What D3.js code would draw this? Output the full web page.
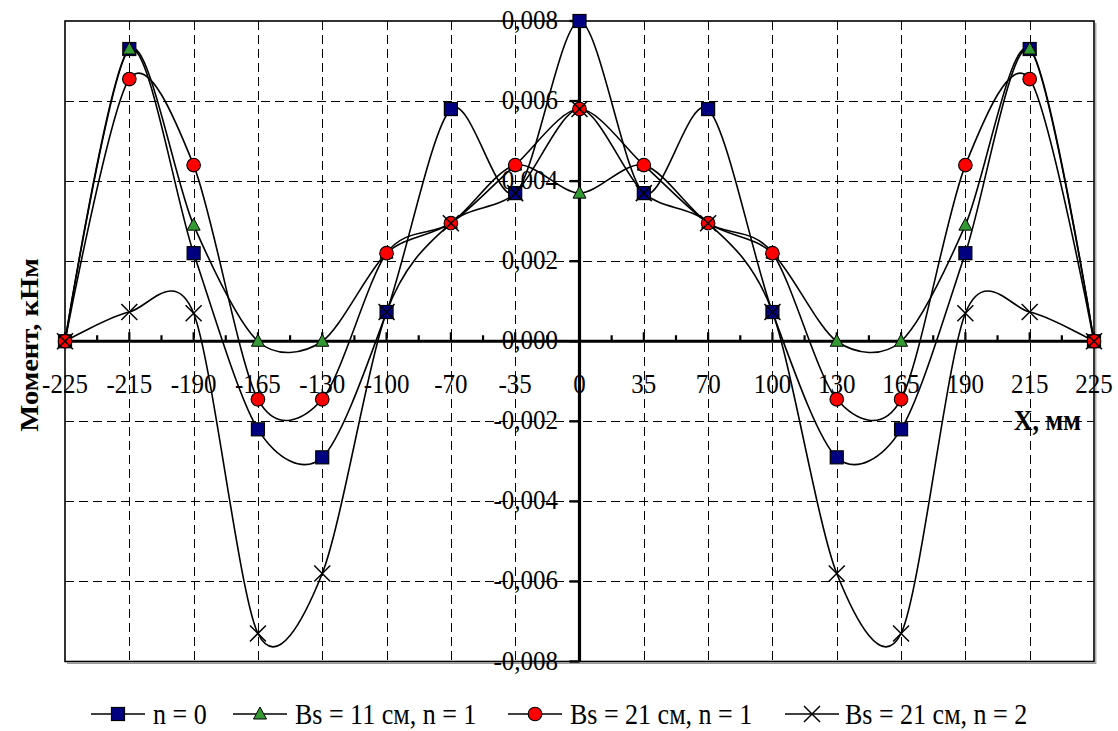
<!DOCTYPE html>
<html>
<head>
<meta charset="utf-8">
<script src="https://cdn.jsdelivr.net/npm/d3@7/dist/d3.min.js"></script>
<style>
  html, body { margin: 0; padding: 0; background: #fff; }
  svg { display: block; }
  text { font-family: "Liberation Serif", "Times New Roman", Times, "DejaVu Serif", serif; }
</style>
</head>
<body>
<svg id="chart" width="1118" height="731"></svg>
<script>
// Positions along the beam, mm (category axis)
const categories = [-225, -215, -190, -165, -130, -100, -70, -35, 0, 35, 70, 100, 130, 165, 190, 215, 225];

// Bending moment, kN·m
const momentN0      = [0, 0.0073, 0.0022, -0.0022, -0.0029, 0.00073, 0.0058, 0.0037, 0.0080, 0.0037, 0.0058, 0.00073, -0.0029, -0.0022, 0.0022, 0.0073, 0];
const momentBs11n1  = [0, 0.0073, 0.0029, 0, 0, 0.0022, 0.00295, 0.0044, 0.0037, 0.0044, 0.00295, 0.0022, 0, 0, 0.0029, 0.0073, 0];
const momentBs21n1  = [0, 0.00655, 0.0044, -0.00145, -0.00145, 0.0022, 0.00295, 0.0044, 0.0058, 0.0044, 0.00295, 0.0022, -0.00145, -0.00145, 0.0044, 0.00655, 0];
const momentBs21n2  = [0, 0.00073, 0.0007, -0.0073, -0.0058, 0.00073, 0.00295, 0.0037, 0.0058, 0.0037, 0.00295, 0.00073, -0.0058, -0.0073, 0.0007, 0.00073, 0];

const seriesNames = ["n = 0", "Bs = 11 см, n = 1", "Bs = 21 см, n = 1", "Bs = 21 см, n = 2"];
const yTicks = [-0.008, -0.006, -0.004, -0.002, 0, 0.002, 0.004, 0.006, 0.008];

const series = [
  { name: seriesNames[0], values: momentN0,     marker: "square",   fill: "#000080" },
  { name: seriesNames[1], values: momentBs11n1, marker: "triangle", fill: "#339933" },
  { name: seriesNames[2], values: momentBs21n1, marker: "circle",   fill: "#ff0000" },
  { name: seriesNames[3], values: momentBs21n2, marker: "cross",    fill: "none" }
];

const svg = d3.select("#chart");
const plot = { left: 65, right: 1094, top: 21, bottom: 661.5 };

const x = d3.scalePoint().domain(categories).range([plot.left, plot.right]);
const y = d3.scaleLinear().domain([-0.008, 0.008]).range([plot.bottom, plot.top]);

const fmt = d3.formatLocale({ decimal: ",", thousands: " ", grouping: [3], currency: ["", ""], minus: "-" }).format(".3f");
const serif = '"Liberation Serif", "Times New Roman", Times, "DejaVu Serif", serif';

// Text helper: glyphs slightly taller than wide
function label(parent, px, py, str, opts = {}) {
  const rot = opts.rotate ? `rotate(${opts.rotate}) scale(1.1,1)` : "scale(1,1.1)";
  return parent.append("text")
    .attr("transform", `translate(${px},${py}) ${rot}`)
    .attr("text-anchor", opts.anchor || "start")
    .attr("font-family", serif)
    .style("font-family", serif)
    .attr("font-size", opts.size || 25)
    .attr("font-weight", opts.bold ? "bold" : "normal")
    .attr("fill", "#000")
    .text(str);
}

svg.append("rect").attr("width", 1118).attr("height", 731).attr("fill", "#fff");

// Border shadow
svg.append("path")
  .attr("d", `M${plot.right + 1.8},${plot.top + 2} V${plot.bottom + 1.8} H${plot.left + 2}`)
  .attr("fill", "none").attr("stroke", "#999").attr("stroke-width", 1.2);

// Grid
const grid = svg.append("g").attr("stroke", "#000").attr("stroke-width", 1).attr("stroke-dasharray", "9,5");
grid.selectAll("line.h")
  .data(yTicks.filter(v => v !== 0 && Math.abs(v) < 0.008))
  .join("line")
  .attr("x1", plot.left).attr("x2", plot.right)
  .attr("y1", d => Math.round(y(d)) + 0.5).attr("y2", d => Math.round(y(d)) + 0.5);
grid.selectAll("line.v")
  .data(categories.filter((c, i) => i > 0 && i < categories.length - 1 && c !== 0))
  .join("line")
  .attr("x1", d => Math.round(x(d)) + 0.5).attr("x2", d => Math.round(x(d)) + 0.5)
  .attr("y1", plot.top).attr("y2", plot.bottom);

// Plot frame
svg.append("rect")
  .attr("x", plot.left).attr("y", plot.top)
  .attr("width", plot.right - plot.left).attr("height", plot.bottom - plot.top)
  .attr("fill", "none").attr("stroke", "#000").attr("stroke-width", 1.6);

// X axis (through zero) with tick marks
const x0 = y(0);
svg.append("line").attr("x1", plot.left).attr("x2", plot.right).attr("y1", x0).attr("y2", x0)
  .attr("stroke", "#000").attr("stroke-width", 3.2);
svg.append("g").selectAll("line")
  .data(categories)
  .join("line")
  .attr("x1", d => x(d)).attr("x2", d => x(d))
  .attr("y1", x0).attr("y2", x0 - 9)
  .attr("stroke", "#000").attr("stroke-width", 2.2);
svg.append("g").selectAll("line")
  .data(d3.pairs(categories))
  .join("line")
  .attr("x1", d => (x(d[0]) + x(d[1])) / 2).attr("x2", d => (x(d[0]) + x(d[1])) / 2)
  .attr("y1", x0).attr("y2", x0 - 6)
  .attr("stroke", "#000").attr("stroke-width", 2.2);

// Y axis (through x = 0)
const y0 = x(0);
svg.append("line").attr("x1", y0).attr("x2", y0).attr("y1", plot.top).attr("y2", plot.bottom)
  .attr("stroke", "#000").attr("stroke-width", 3.2);
svg.append("g").selectAll("line")
  .data(yTicks)
  .join("line")
  .attr("x1", y0).attr("x2", y0 - 10)
  .attr("y1", d => y(d)).attr("y2", d => y(d))
  .attr("stroke", "#000").attr("stroke-width", 2.4);

// Series curves (smoothed)
const line = d3.line()
  .x((d, i) => x(categories[i]))
  .y(d => y(d))
  .curve(d3.curveCardinal.tension(0.12));

const curves = svg.append("g");
series.forEach(s => {
  curves.append("path")
    .attr("d", line(s.values))
    .attr("fill", "none").attr("stroke", "#000").attr("stroke-width", 1.6);
});

// Markers
function marker(g, type, fill, cx, cy) {
  if (type === "square") {
    g.append("rect").attr("x", cx - 6.5).attr("y", cy - 6.5).attr("width", 13).attr("height", 13)
      .attr("fill", fill).attr("stroke", "#000").attr("stroke-width", 1.2);
  } else if (type === "triangle") {
    g.append("path").attr("d", `M${cx},${cy - 7} L${cx + 6.5},${cy + 5} L${cx - 6.5},${cy + 5} Z`)
      .attr("fill", fill).attr("stroke", "#000").attr("stroke-width", 1);
  } else if (type === "circle") {
    g.append("circle").attr("cx", cx).attr("cy", cy).attr("r", 6.8)
      .attr("fill", fill).attr("stroke", "#000").attr("stroke-width", 1.1);
  } else {
    g.append("path").attr("d", `M${cx - 8},${cy - 8} L${cx + 8},${cy + 8} M${cx + 8},${cy - 8} L${cx - 8},${cy + 8}`)
      .attr("stroke", "#000").attr("stroke-width", 1.5);
  }
}
const marks = svg.append("g");
series.forEach(s => {
  s.values.forEach((v, i) => marker(marks, s.marker, s.fill, x(categories[i]), y(v)));
});

// Tick labels
const tickText = svg.append("g");
yTicks.forEach(v => label(tickText, 558, y(v) + 8, fmt(v), { anchor: "end", size: 25 }));
categories.forEach(c => label(tickText, x(c), 393, String(c), { anchor: "middle", size: 25 }));

// Axis titles
label(svg, 1081, 430, "X, мм", { anchor: "end", size: 26, bold: true });
label(svg, 38, 345, "Момент, кНм", { anchor: "middle", size: 26, bold: true, rotate: -90 });

// Legend
const legendItems = [
  { lineX: 91,  textX: 153 },
  { lineX: 233, textX: 295 },
  { lineX: 508, textX: 570 },
  { lineX: 785, textX: 845 }
];
const legend = svg.append("g");
series.forEach((s, i) => {
  const it = legendItems[i];
  const ly = 714;
  legend.append("line").attr("x1", it.lineX).attr("x2", it.lineX + 54).attr("y1", ly).attr("y2", ly)
    .attr("stroke", "#000").attr("stroke-width", 1.6);
  marker(legend, s.marker, s.fill, it.lineX + 27, ly);
  label(legend, it.textX, 724, s.name, { size: 26 });
});
</script>
</body>
</html>
